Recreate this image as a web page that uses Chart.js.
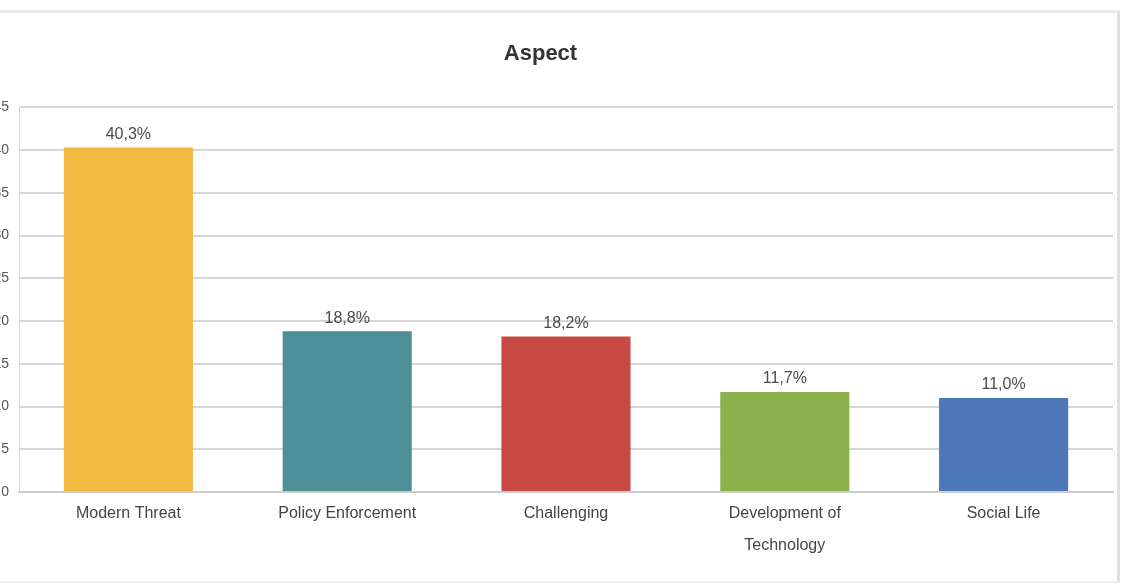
<!DOCTYPE html>
<html>
<head>
<meta charset="utf-8">
<script src="https://cdn.jsdelivr.net/npm/chart.js@4.4.1/dist/chart.umd.min.js"></script>
<style>
  html, body { margin: 0; padding: 0; background: #fff; overflow: hidden; }
  body { width: 1132px; height: 584px; position: relative; }
  #frame {
    position: absolute; left: -40px; top: 10px; width: 1157px; height: 568px;
    border-top: 3px solid #e8e8e8; border-right: 3px solid #e0e0e0; border-bottom: 2px solid #eeeeee;
  }
  #wrap { position: absolute; left: 8px; top: 0px; width: 1150px; height: 566px; }
</style>
</head>
<body>
<div id="frame"><div id="wrap"><canvas id="chart"></canvas></div></div>
<script>
const aspects = ['Modern Threat', 'Policy Enforcement', 'Challenging', ['Development of', 'Technology'], 'Social Life'];
const shares = [40.3, 18.8, 18.2, 11.7, 11.0];
const barColors = ['#F1BA42', '#4D8E98', '#C94A45', '#8BB04C', '#4D78B8'];

// percentage text above each bar, decimal comma
const valueLabels = {
  id: 'valueLabels',
  afterDatasetsDraw(chart) {
    const ctx = chart.ctx;
    const meta = chart.getDatasetMeta(0);
    ctx.save();
    ctx.font = '16px "Liberation Sans", Arial, sans-serif';
    ctx.fillStyle = '#4a4a4a';
    ctx.textAlign = 'center';
    ctx.textBaseline = 'bottom';
    meta.data.forEach((bar, i) => {
      const txt = shares[i].toFixed(1).replace('.', ',') + '%';
      ctx.fillText(txt, bar.x, bar.y - 5);
    });
    ctx.restore();
  }
};

new Chart(document.getElementById('chart').getContext('2d'), {
  type: 'bar',
  data: {
    labels: aspects,
    datasets: [{
      data: shares,
      backgroundColor: barColors,
      borderWidth: 0,
      barPercentage: 1,
      categoryPercentage: 0.59
    }]
  },
  options: {
    responsive: true,
    maintainAspectRatio: false,
    animation: false,
    layout: { padding: { right: 5, bottom: 19 } },
    plugins: {
      legend: { display: false },
      tooltip: { enabled: false },
      title: {
        display: true,
        text: 'Aspect',
        color: '#333',
        font: { family: '"Liberation Sans", Arial, sans-serif', size: 22, weight: 'bold' },
        padding: { top: 28, bottom: 40 }
      }
    },
    scales: {
      x: {
        grid: { display: false },
        border: { color: '#cccccc', width: 2 },
        ticks: {
          color: '#444',
          padding: -2,
          font: { family: '"Liberation Sans", Arial, sans-serif', size: 16, lineHeight: 2 }
        }
      },
      y: {
        min: 0,
        max: 45,
        afterFit(scale) { scale.width = 51; },
        grid: { color: '#d6d6d6', lineWidth: 2, drawTicks: false },
        border: { color: '#d6d6d6', width: 1 },
        ticks: {
          stepSize: 5,
          color: '#555',
          padding: 10,
          font: { family: '"Liberation Sans", Arial, sans-serif', size: 14 }
        }
      }
    }
  },
  plugins: [valueLabels]
});
</script>
</body>
</html>
